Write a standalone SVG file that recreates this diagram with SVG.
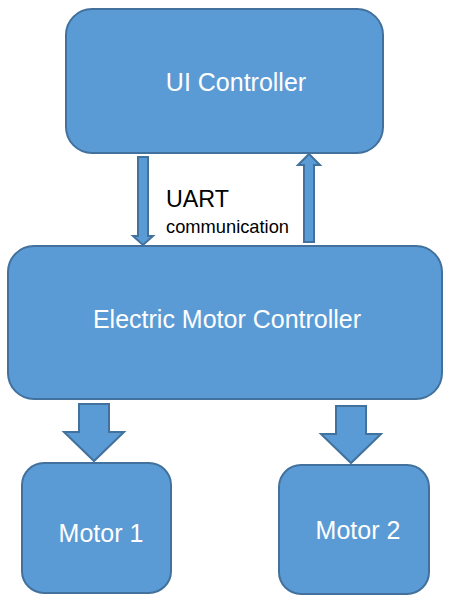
<svg xmlns="http://www.w3.org/2000/svg" width="450" height="602" viewBox="0 0 450 602">
<style>
.box{fill:#5B9BD5;stroke:#41719C;stroke-width:2}
.arr{fill:#5B9BD5;stroke:#41719C;stroke-width:2;stroke-linejoin:miter}
.lbl{fill:#FFFFFF;font-family:"Liberation Sans",Arial,sans-serif;font-size:25px;text-anchor:middle}
.note{fill:#000000;font-family:"Liberation Sans",Arial,sans-serif}
</style>
<rect width="450" height="602" fill="#FFFFFF"/>
<g id="connectors">
<polygon class="arr" points="138,157 148,157 148,236 153,236 143,245 133,236 138,236"/>
<polygon class="arr" points="304,242 314,242 314,165 320,165 309,154 298,165 304,165"/>
<polygon class="arr" points="79,404 109,404 109,432 124,432 94,461 64,432 79,432"/>
<polygon class="arr" points="336,406 366,406 366,434 381,434 351,463 321,434 336,434"/>
<text class="note" x="166" y="207" font-size="24" textLength="63" lengthAdjust="spacingAndGlyphs">UART</text>
<text class="note" x="166" y="233" font-size="19" textLength="123" lengthAdjust="spacingAndGlyphs">communication</text>
</g>
<g id="ui-controller">
<rect class="box" x="66" y="9" width="317" height="144" rx="26" ry="26"/>
<text class="lbl" x="236" y="91">UI Controller</text>
</g>
<g id="electric-motor-controller">
<rect class="box" x="8" y="246" width="434" height="153" rx="26" ry="26"/>
<text class="lbl" x="227" y="328">Electric Motor Controller</text>
</g>
<g id="motor-1">
<rect class="box" x="22" y="463" width="149" height="130" rx="22" ry="22"/>
<text class="lbl" x="101" y="542">Motor 1</text>
</g>
<g id="motor-2">
<rect class="box" x="279" y="465" width="150" height="129" rx="22" ry="22"/>
<text class="lbl" x="358" y="539">Motor 2</text>
</g>
</svg>
